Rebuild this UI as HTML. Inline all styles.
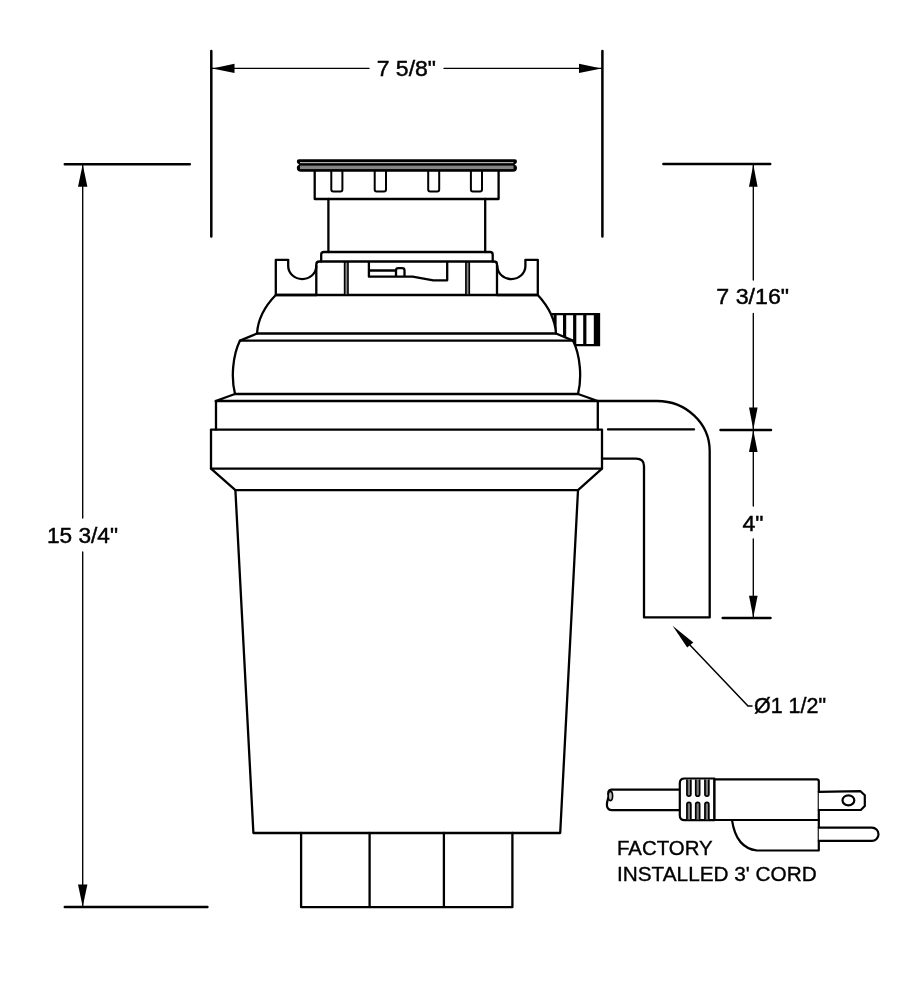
<!DOCTYPE html>
<html><head><meta charset="utf-8"><title>Disposer</title>
<style>
html,body{margin:0;padding:0;background:#fff;width:920px;height:1000px;overflow:hidden}
svg{display:block;will-change:transform}
text{font-family:"Liberation Sans",sans-serif;fill:#000;stroke:#000;stroke-width:0.45}
</style></head><body>
<svg width="920" height="1000" viewBox="0 0 920 1000">
<g fill="none" stroke="#000" stroke-linecap="round" stroke-linejoin="round">

<!-- ===== dimension: top 7 5/8 ===== -->
<g stroke-width="2.5">
<path d="M211.3 51 V236.5 M602.4 51 V236.5"/>
<path d="M64.8 164.2 H189.8 M64.8 907.1 H207.4"/>
<path d="M663.4 164 H770.2 M720.5 429.9 H771 M722.7 617.9 H770.5"/>
</g>
<g stroke-width="1.35">
<path d="M212 68.4 H369 M444 68.4 H601.5"/>
<path d="M82.7 165 V518 M82.7 552 V906"/>
<path d="M753.3 165 V280 M753.3 313.5 V429 M753.3 431 V506 M753.3 539 V617"/>
</g>
</g>
<g fill="#000" stroke="none">
<!-- arrowheads -->
<path d="M212.3 68.4 L234.5 63.8 L234.5 73 Z"/>
<path d="M601.5 68.4 L579 63.8 L579 73 Z"/>
<path d="M82.7 164.5 L78 186.7 L87.4 186.7 Z"/>
<path d="M82.7 906.8 L78 884.5 L87.4 884.5 Z"/>
<path d="M753.3 164.5 L749 186.8 L757.6 186.8 Z"/>
<path d="M753.3 429.6 L749 407.6 L757.6 407.6 Z"/>
<path d="M753.3 430.2 L749 452.1 L757.6 452.1 Z"/>
<path d="M753.3 617.6 L749 595.7 L757.6 595.7 Z"/>
</g>


<!-- ===== disposer body ===== -->
<!-- knob (dishwasher inlet) -->
<g>
<path d="M540 314.1 H599 V345.1 H540 Z" fill="#fff" stroke="#000" stroke-width="2.3"/>
<g fill="#000">
<rect x="553.6" y="314" width="3" height="22"/>
<rect x="563" y="314" width="3.2" height="31"/>
<rect x="573.1" y="314" width="3.2" height="31"/>
<rect x="583.2" y="314" width="3.2" height="31"/>
<rect x="593.8" y="314" width="5.2" height="31"/>
</g>
</g>
<g fill="#fff" stroke="none">
<path d="M275.8 295 C266 305 258 318 257 333.5 L240 340.6 C232.5 356 231 378 235 394 H578 C582 378 580.5 356 573 340.6 L556 333.5 C555 318 547 305 537.8 295 Z"/>
</g>
<g id="body" fill="none" stroke="#000" stroke-width="2.3" stroke-linejoin="round" stroke-linecap="round">
<!-- feet -->
<path d="M301.1 833 V907.2 H512.4 V833 M369.6 833 V907.2 M443.9 833 V907.2"/>
<!-- lower body -->
<path d="M235.4 490.2 L253.4 833 H560.2 L578 490.2"/>
<!-- pipe -->
<path d="M598 401 H657 A52.7 50 0 0 1 709.7 451 V617.4 H644 V466 Q644 458.6 636 458.6 H602"/>
<path d="M608 429.4 H694"/>
<!-- chamfer ring + rings -->
<path d="M211 468.6 L235.4 490.2 H578 L602 468.6"/>
<path d="M211 429.6 V468.6 H602 V429.6 Z"/>
<path d="M216 401 V429.6 M597.8 401 V429.6"/>
<path d="M235 394 L215.6 401 H597.8 L578 394"/>
<!-- lower dome -->
<path d="M240 340.6 C232.5 356 231 378 235 394 H578 C582 378 580.5 356 573 340.6 Z"/>
<!-- seam chamfer -->
<path d="M257 333.5 L240 340.6 M573 340.6 L556 333.5"/>
<!-- upper dome -->
<path d="M275.8 295 C266 305 258 318 257 333.5 H556 C555 318 547 305 537.8 295 Z"/>
<!-- ears -->
<path d="M316.3 295 H275.8 V259.8 H288.2 V266 A14 13 0 0 0 316.3 266"/>
<path d="M497.3 295 H537.8 V259.8 H525.4 V266 A14 13 0 0 1 497.3 266"/>
<!-- block -->
<path d="M316.3 295 V264.5 Q316.3 261.5 319.3 261.5 H494 Q497 261.5 497 264.5 V295"/>
<!-- thin band -->
<path d="M321.2 261.5 V254.5 Q321.2 252 324 252 H490 Q492.7 252 492.7 254.5 V261.5"/>
<!-- neck -->
<path d="M328.4 252 V199 M485.2 199 V252"/>
<!-- collar -->
<path d="M314.7 171 V199 H498.6 V171"/>
</g>
<g fill="none" stroke="#000" stroke-width="2" stroke-linejoin="round">
<path d="M331.3 171 V189.5 Q331.3 191.5 333.3 191.5 H340.4 Q342.4 191.5 342.4 189.5 V171"/>
<path d="M374.7 171 V189.5 Q374.7 191.5 376.7 191.5 H384 Q386 191.5 386 189.5 V171"/>
<path d="M428.2 171 V189.5 Q428.2 191.5 430.2 191.5 H437.2 Q439.2 191.5 439.2 189.5 V171"/>
<path d="M470.9 171 V189.5 Q470.9 191.5 472.9 191.5 H480 Q482 191.5 482 189.5 V171"/>
</g>
<!-- double lines in block -->
<g fill="#888" stroke="#000" stroke-width="1.6">
<rect x="344.6" y="262" width="3.4" height="33"/>
<rect x="465.9" y="262" width="3.4" height="33"/>
</g>
<!-- latch -->
<path d="M368.9 261.5 V276.7 H412.6 L433.3 280.3 H447.2 V261.5 M368.9 270.5 H396 M396 276.7 V270.5 Q396 268.2 398.3 268.2 H402.2 Q404.5 268.2 404.5 270.5 V276.7" fill="none" stroke="#000" stroke-width="2.3" stroke-linejoin="round"/>
<!-- flange -->
<path d="M299 159.3 H514.8 Q517 159.3 517 161.5 Q517 163.5 514.5 164.5 Q517 165.5 517 167.5 Q517 171.8 513 171.8 H301 Q296.8 171.8 296.8 167.5 Q296.8 165.5 299.3 164.5 Q296.8 163.5 296.8 161.5 Q296.8 159.3 299 159.3 Z" fill="#000"/>
<rect x="300" y="162" width="213.5" height="1.2" fill="#b0b0b0"/>
<rect x="300" y="165.6" width="213.5" height="3.5" fill="#858585"/>

<!-- ===== cord & plug ===== -->
<g fill="#fff" stroke="#000" stroke-width="2.2" stroke-linejoin="round" stroke-linecap="round">
<!-- cord -->
<path d="M680 789.7 H611 C608 790 607.6 793 609 796 C607.5 800 606.5 803 607 806 C607.5 809 609.5 810.2 612 810.2 H680"/>
<ellipse cx="610.4" cy="796" rx="2.2" ry="4.6" fill="#bbb" stroke-width="1.6"/>
<!-- strain relief -->
<path d="M684.5 778.5 H714.4 V820.2 H684.5 Q679.8 820.2 679.8 815.5 V783.2 Q679.8 778.5 684.5 778.5 Z"/>
<!-- plug body -->
<path d="M714.5 779.3 H816.8 Q818.8 779.3 818.8 781.3 V850.5 H757 Q736 848 732 820 H714.5 Z"/>
<path d="M714.5 820 H818.8" fill="none"/>
<!-- top prong -->
<path d="M818.8 791.8 L860.5 791.2 L864.8 795.3 V806 L860.8 810 H818.8"/>
<ellipse cx="848.4" cy="800.3" rx="5.9" ry="5" stroke-width="2.2"/>
<!-- bottom prong -->
<path d="M818.8 827.6 H871.8 A6.7 6.65 0 0 1 871.8 840.9 H818.8"/>
</g>
<g fill="#7a7a7a" stroke="#000" stroke-width="1.7">
<path d="M686.95 779.5 V794.3 A1.95 1.95 0 0 0 690.85 794.3 V779.5"/>
<path d="M686.95 819.5 V804.4 A1.95 1.95 0 0 1 690.85 804.4 V819.5"/>
<path d="M695.75 779.5 V794.3 A1.95 1.95 0 0 0 699.65 794.3 V779.5"/>
<path d="M695.75 819.5 V804.4 A1.95 1.95 0 0 1 699.65 804.4 V819.5"/>
<path d="M704.95 779.5 V794.3 A1.95 1.95 0 0 0 708.85 794.3 V779.5"/>
<path d="M704.95 819.5 V804.4 A1.95 1.95 0 0 1 708.85 804.4 V819.5"/>
</g>

<!-- texts -->
<text x="376.7" y="75.5" font-size="22.5" textLength="59.3" lengthAdjust="spacingAndGlyphs">7 5/8"</text>
<text x="47" y="543.2" font-size="22.5" textLength="71" lengthAdjust="spacingAndGlyphs">15 3/4"</text>
<text x="716.3" y="304.2" font-size="22.5" textLength="72.8" lengthAdjust="spacingAndGlyphs">7 3/16"</text>
<text x="742.4" y="531.1" font-size="22.5" textLength="21" lengthAdjust="spacingAndGlyphs">4"</text>
<text x="754" y="713" font-size="22" textLength="72" lengthAdjust="spacingAndGlyphs">Ø1 1/2"</text>
<text x="617" y="854.6" font-size="19.5" style="stroke-width:0.35" textLength="95.7" lengthAdjust="spacingAndGlyphs">FACTORY</text>
<text x="617" y="881" font-size="19.5" style="stroke-width:0.35" textLength="199.7" lengthAdjust="spacingAndGlyphs">INSTALLED 3' CORD</text>

<!-- leader -->
<g fill="none" stroke="#000" stroke-width="1.5" stroke-linecap="round">
<path d="M689 644 L748 705.9 H752"/>
</g>
<path d="M672.6 625.7 L693.3 642.6 L687.2 647.4 Z" fill="#000"/>

</svg>
</body></html>
